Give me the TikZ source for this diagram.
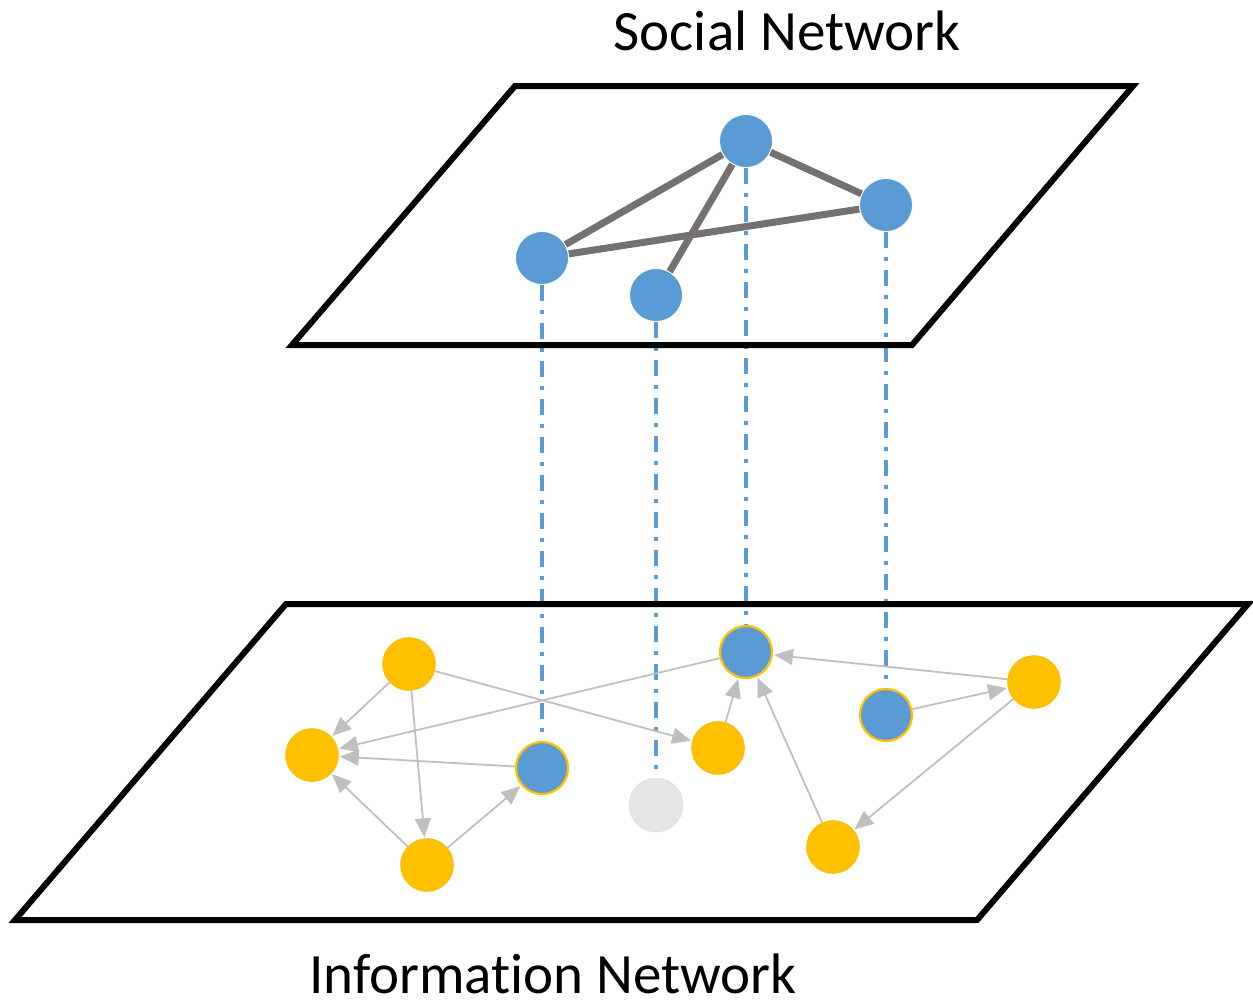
\documentclass[tikz,border=0pt]{standalone}
\usepackage{fontspec}
\setmainfont{Carlito}[Ligatures={NoCommon}]
\usetikzlibrary{arrows.meta}
\definecolor{nblue}{HTML}{5B9BD5}
\definecolor{nyellow}{HTML}{FFC000}
\definecolor{ngray}{HTML}{E7E6E6}
\definecolor{sedge}{HTML}{767171}
\definecolor{iedge}{HTML}{BFBFBF}
\pgfdeclarelayer{background}
\pgfsetlayers{background,main}
\tikzset{
  plane/.style={draw=black, line width=6pt, line join=miter},
  snode/.style={circle, fill=nblue, draw=white, line width=0.8pt, minimum size=53pt, inner sep=0pt},
  bnode/.style={circle, fill=nblue, draw=nyellow, line width=2.2pt, minimum size=52pt, inner sep=0pt},
  ynode/.style={circle, fill=nyellow, draw=nyellow!90!gray, line width=0.5pt, minimum size=53pt, inner sep=0pt},
  gnode/.style={circle, fill=ngray, draw=ngray!90!gray, line width=0.5pt, minimum size=54pt, inner sep=0pt},
  sedgestyle/.style={draw=sedge, line width=7pt},
  iarrow/.style={draw=iedge, line width=1.8pt, -{Triangle[length=19pt, width=16pt]}, shorten >=1pt},
  proj/.style={draw=nblue, line width=3.5pt, dash pattern=on 16pt off 9pt on 4pt off 9pt},
  title/.style={font=\fontsize{57}{60}\selectfont, anchor=base, inner sep=0pt}
}
\begin{document}
\begin{tikzpicture}[x=1pt, y=-1pt]
\useasboundingbox (0,0) rectangle (1253,999);
% labels
\node[title] (tsoc) at (787,50) {Social Network};
\node[title] (tinf) at (553,993) {Information Network};
% social network nodes
\node[snode] (sA) at (746,141) {};
\node[snode] (sB) at (886,205) {};
\node[snode] (sC) at (542,258) {};
\node[snode] (sD) at (656,295) {};
% information network nodes
\node[ynode] (y1) at (409,664) {};
\node[ynode] (y2) at (312,755) {};
\node[bnode] (b1) at (542,768) {};
\node[ynode] (y3) at (427,865) {};
\node[gnode] (g1) at (656,805) {};
\node[ynode] (y4) at (718,748) {};
\node[bnode] (b2) at (746,652) {};
\node[bnode] (b3) at (886,715) {};
\node[ynode] (y5) at (1034,682) {};
\node[ynode] (y6) at (833,847) {};
\begin{pgfonlayer}{background}
  % projection lines
  \draw[proj] (sC.south) -- (b1.north);
  \draw[proj] (sD.south) -- (g1.north);
  \draw[proj] (sA.south) -- (b2.north);
  \draw[proj] (sB.south) -- (b3.north);
  % planes
  \draw[plane] (515,86) -- (1133,86) -- (912,345) -- (292,345) -- cycle;
  \draw[plane] (286,604) -- (1248,604) -- (977,920) -- (15,920) -- cycle;
  % social edges
  \draw[sedgestyle] (sA) -- (sC);
  \draw[sedgestyle] (sA) -- (sD);
  \draw[sedgestyle] (sA) -- (sB);
  \draw[sedgestyle] (sC) -- (sB);
  % information edges
  \draw[iarrow] (y1) -- (y2);
  \draw[iarrow] (y1) -- (y3);
  \draw[iarrow] (y1) -- (y4);
  \draw[iarrow] (b2) -- (y2);
  \draw[iarrow] (b1) -- (y2);
  \draw[iarrow] (y3) -- (y2);
  \draw[iarrow] (y3) -- (b1);
  \draw[iarrow] (y4) -- (b2);
  \draw[iarrow] (y6) -- (b2);
  \draw[iarrow] (y5) -- (b2);
  \draw[iarrow] (b3) -- (y5);
  \draw[iarrow] (y5) -- (y6);
\end{pgfonlayer}
\end{tikzpicture}
\end{document}
